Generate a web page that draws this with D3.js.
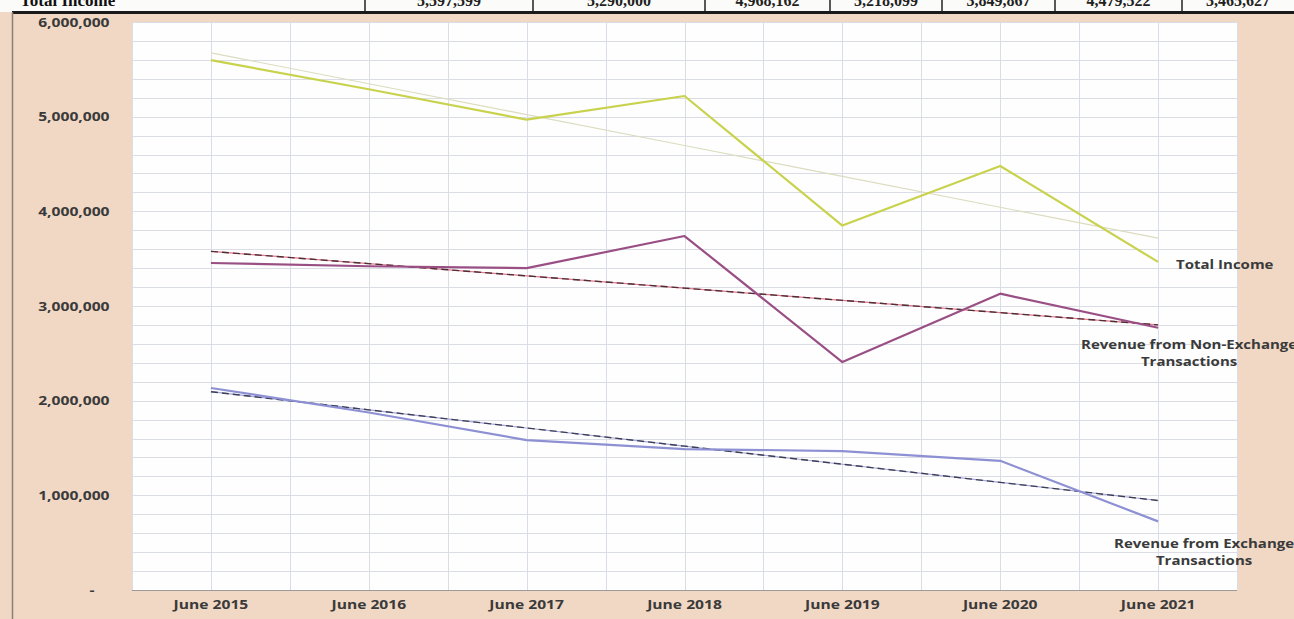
<!DOCTYPE html>
<html>
<head>
<meta charset="utf-8">
<script src="https://cdn.jsdelivr.net/npm/d3@7"></script>
<style>
 body { margin: 0; background: #f1d8c5; }
 svg { display: block; }
</style>
</head>
<body>
<div id="chart"></div>
<script>
const years = ["June 2015", "June 2016", "June 2017", "June 2018", "June 2019", "June 2020", "June 2021"];
const totalIncome = [5597599, 5290000, 4968162, 5218099, 3849867, 4479522, 3465627];
const nonExchange = [3454000, 3420000, 3400000, 3739000, 2408000, 3130000, 2770000];
const exchange = [2134000, 1875000, 1584000, 1489000, 1468000, 1365000, 725000];
const yTicks = [0, 1000000, 2000000, 3000000, 4000000, 5000000, 6000000];
const tableCells = [365, 533, 705, 830, 942, 1055, 1182, 1294];

const width = 1294, height = 619;
const plot = { left: 132, right: 1237, top: 22, bottom: 590 };
const stretch = "scale(1.25,1)";
const labelFont = "'Open Sans', sans-serif";

const svg = d3.select("#chart").append("svg")
 .attr("width", width)
 .attr("height", height);

// page background (scanned beige)
svg.append("rect").attr("width", width).attr("height", height).attr("fill", "#f1d8c5");

// table row cut at the top
svg.append("rect").attr("width", width).attr("height", 12).attr("fill", "#fbfbf9");
svg.append("text")
 .attr("x", 20).attr("y", 6)
 .attr("font-family", "'Liberation Serif', serif")
 .attr("font-weight", "bold").attr("font-size", 17)
 .attr("fill", "#111")
 .text("Total Income");
svg.selectAll(".cell-line").data(tableCells.slice(0, -1)).enter()
 .append("line")
 .attr("x1", d => d).attr("x2", d => d)
 .attr("y1", 0).attr("y2", 12)
 .attr("stroke", "#222").attr("stroke-width", 1.5);
svg.selectAll(".cell-text").data(totalIncome).enter()
 .append("text")
 .attr("x", (d, i) => (tableCells[i] + tableCells[i + 1]) / 2)
 .attr("y", 6)
 .attr("text-anchor", "middle")
 .attr("font-family", "'Liberation Serif', serif")
 .attr("font-weight", "bold").attr("font-size", 16)
 .attr("fill", "#222")
 .text(d => d3.format(",")(d));
svg.append("line")
 .attr("x1", 12).attr("x2", width).attr("y1", 12.5).attr("y2", 12.5)
 .attr("stroke", "#1a1a1a").attr("stroke-width", 3);
svg.append("line")
 .attr("x1", 12.5).attr("x2", 12.5).attr("y1", 12).attr("y2", height)
 .attr("stroke", "#8a7f78").attr("stroke-width", 1.5);

const x = d3.scaleBand().domain(years).range([plot.left, plot.right]);
const cx = d => x(d) + x.bandwidth() / 2;
const y = d3.scaleLinear().domain([0, 6000000]).range([plot.bottom, plot.top]);

// plot area
svg.append("rect")
 .attr("x", plot.left).attr("y", plot.top)
 .attr("width", plot.right - plot.left).attr("height", plot.bottom - plot.top)
 .attr("fill", "#fefefe");

const grid = svg.append("g").attr("stroke", "#dadde6").attr("stroke-width", 1);
grid.selectAll(".h").data(y.ticks(30)).enter()
 .append("line")
 .attr("x1", plot.left).attr("x2", plot.right)
 .attr("y1", d => Math.round(y(d)) + 0.5).attr("y2", d => Math.round(y(d)) + 0.5);
const vLines = years.map(x).concat([plot.right]).concat(years.map(cx));
grid.selectAll(".v").data(vLines).enter()
 .append("line")
 .attr("x1", d => Math.round(d) + 0.5).attr("x2", d => Math.round(d) + 0.5)
 .attr("y1", plot.top).attr("y2", plot.bottom);

svg.append("line")
 .attr("x1", plot.left).attr("x2", plot.right)
 .attr("y1", plot.bottom + 0.5).attr("y2", plot.bottom + 0.5)
 .attr("stroke", "#9a9a9a");

// axes
const yAxis = svg.append("g")
 .attr("transform", `translate(${plot.left},0)`)
 .call(d3.axisLeft(y).tickValues(yTicks).tickSize(0).tickPadding(18)
  .tickFormat(d => d === 0 ? "-" : d3.format(",")(d)));
yAxis.select(".domain").remove();
yAxis.selectAll("text")
 .attr("transform", stretch)
 .attr("font-family", labelFont).attr("font-weight", "bold").attr("font-size", 12.5)
 .attr("fill", "#3a3a3a");
yAxis.selectAll(".tick").filter(d => d === 0).select("text").attr("x", -30);

const xAxis = svg.append("g")
 .attr("transform", `translate(0,${plot.bottom})`)
 .call(d3.axisBottom(x).tickSize(0).tickPadding(10));
xAxis.select(".domain").remove();
xAxis.selectAll("text")
 .attr("transform", stretch)
 .attr("x", function(d) { return cx(d) * 0.25 / 1.25 * -1 + 0; })
 .attr("font-family", labelFont).attr("font-weight", "bold").attr("font-size", 12.5)
 .attr("fill", "#3a3a3a");
// keep stretched x labels centred on their tick
xAxis.selectAll(".tick text").attr("x", 0);

// least-squares trend, as Excel draws it
const fit = vals => {
 const mx = (vals.length - 1) / 2, my = d3.mean(vals);
 let sxy = 0, sxx = 0;
 vals.forEach((v, i) => { sxy += (i - mx) * (v - my); sxx += (i - mx) * (i - mx); });
 const b = sxy / sxx;
 return vals.map((v, i) => my + b * (i - mx));
};

const line = d3.line().x((d, i) => cx(years[i])).y(d => y(d));

const series = [
 { name: ["Total Income"], values: totalIncome, color: "#c8d24c", trend: "#dcdcc0", dash: null, under: null, lab: [18, 3], anchor: "start" },
 { name: ["Revenue from Non-Exchange", "Transactions"], values: nonExchange, color: "#9a4f84", trend: "#4a3038", dash: "7,4", under: "#e0566e", lab: [31, 17], anchor: "middle" },
 { name: ["Revenue from Exchange", "Transactions"], values: exchange, color: "#8d90d3", trend: "#3e3e52", dash: "7,4", under: "#8d90d3", lab: [46, 22], anchor: "middle" }
];

series.forEach(s => {
 const t = fit(s.values);
 if (s.under) {
  svg.append("path").attr("d", line(t)).attr("fill", "none")
   .attr("stroke", s.under).attr("stroke-width", 1.2).attr("opacity", 0.8);
 }
 svg.append("path").attr("d", line(t)).attr("fill", "none")
  .attr("stroke", s.trend).attr("stroke-width", s.dash ? 1.4 : 1.2)
  .attr("stroke-dasharray", s.dash);
});

series.forEach(s => {
 svg.append("path").attr("d", line(s.values)).attr("fill", "none")
  .attr("stroke", s.color).attr("stroke-width", 2.2).attr("stroke-linejoin", "round");

 const last = s.values.length - 1;
 const lx = cx(years[last]) + s.lab[0];
 const ly = y(s.values[last]) + s.lab[1];
 const g = svg.append("g").attr("transform", `translate(${lx},${ly})`);
 g.selectAll("text").data(s.name).enter()
  .append("text")
  .attr("transform", (d, i) => `translate(0,${i * 17}) ${stretch}`)
  .attr("dy", "0.35em")
  .attr("text-anchor", s.anchor)
  .attr("font-family", labelFont).attr("font-weight", "bold").attr("font-size", 12)
  .attr("fill", "#3a3a3a")
  .text(d => d);
});
</script>
</body>
</html>
